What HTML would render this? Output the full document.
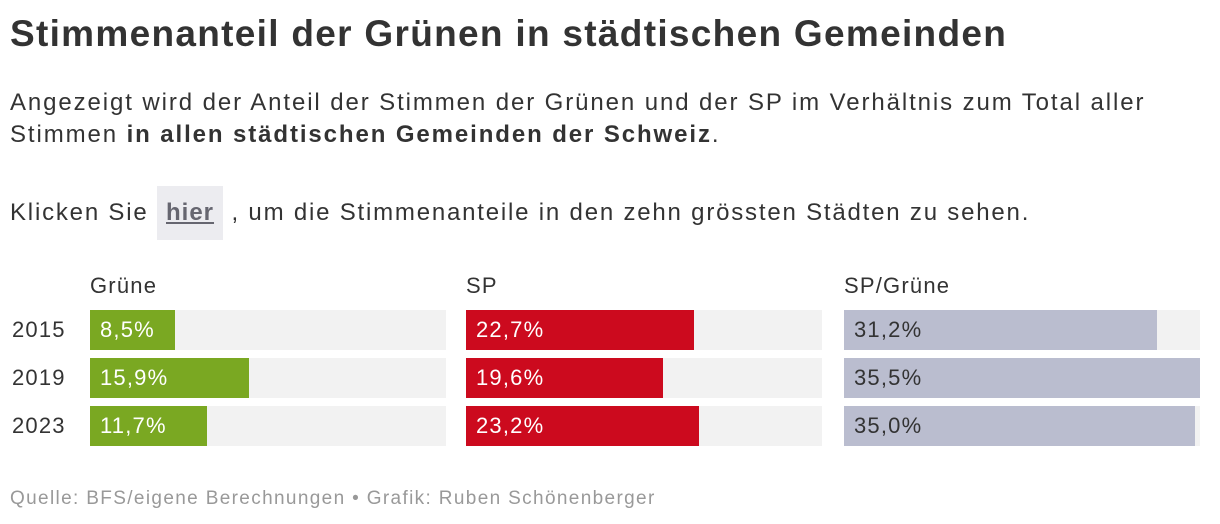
<!DOCTYPE html>
<html><head><meta charset="utf-8"><style>
body{margin:0;width:1220px;height:524px;background:#fff;font-family:"Liberation Sans",sans-serif;color:#333;position:relative;overflow:hidden}
.a{position:absolute;white-space:nowrap}
h1{position:absolute;left:10px;top:13px;margin:0;font-size:37px;letter-spacing:1.3px;font-weight:bold;color:#333}
.sub{font-size:24px;letter-spacing:1.9px;line-height:32px;color:#333}
.hier{display:inline-block;background:#ececf0;padding:0 9px;line-height:54px;font-weight:bold;color:#666670;text-decoration:underline;letter-spacing:1px}
.lbl{font-size:22px;letter-spacing:1.2px;color:#333}
.bg{position:absolute;background:#f2f2f2;height:40px}
.bar{position:absolute;height:40px;font-size:22px;letter-spacing:1.2px;line-height:40px;color:#fff;white-space:nowrap;text-indent:10px}
</style></head><body>
<h1>Stimmenanteil der Grünen in städtischen Gemeinden</h1>
<div class="a sub" style="left:10px;top:87px">Angezeigt wird der Anteil der Stimmen der Grünen und der SP im Verhältnis zum Total aller<br>Stimmen <b>in allen städtischen Gemeinden der Schweiz</b>.</div>
<div class="a sub" style="left:10px;top:186px;line-height:54px;letter-spacing:1.8px">Klicken Sie <span class="hier">hier</span> , um die Stimmenanteile in den zehn grössten Städten zu sehen.</div>
<div id="chart"></div>
<div class="a" style="left:10px;top:488px;font-size:19px;letter-spacing:1.35px;color:#999">Quelle: BFS/eigene Berechnungen • Grafik: Ruben Schönenberger</div>
<script>
const years=["2015","2019","2023"];
const seriesNames=["Grüne","SP","SP/Grüne"];
const gruene=[8.5,15.9,11.7];
const sp=[22.7,19.6,23.2];
const spGruene=[31.2,35.5,35.0];
const all=[gruene,sp,spGruene];
const colors=["#7aa822","#cc0a1e","#babdcf"];
const textColors=["#fff","#fff","#333"];
const colX=[90,466,844], colW=356, rowY=[310,358,406];
const maxV=Math.max(...all.flat());
const xs=v=>v/maxV*colW;
const c=document.getElementById('chart');
years.forEach((y,i)=>{
  const d=document.createElement('div');d.className='a lbl';d.style.left='12px';d.style.top=(rowY[i]+7)+'px';d.textContent=y;
  
  
  c.appendChild(d);
});
seriesNames.forEach((s,j)=>{
  const h=document.createElement('div');h.className='a lbl';h.style.left=colX[j]+'px';h.style.top='273px';h.textContent=s;
  
  
  c.appendChild(h);
  all[j].forEach((v,i)=>{
    const bg=document.createElement('div');bg.className='bg';bg.style.left=colX[j]+'px';bg.style.top=rowY[i]+'px';bg.style.width=colW+'px';
    
    
    c.appendChild(bg);
    const b=document.createElement('div');b.className='bar';b.style.left=colX[j]+'px';b.style.top=rowY[i]+'px';b.style.width=xs(v)+'px';
    b.style.background=colors[j];b.style.color=textColors[j];
    b.textContent=v.toFixed(1).replace('.',',')+'%';
    
    
    c.appendChild(b);
  });
});
</script>
</body></html>
